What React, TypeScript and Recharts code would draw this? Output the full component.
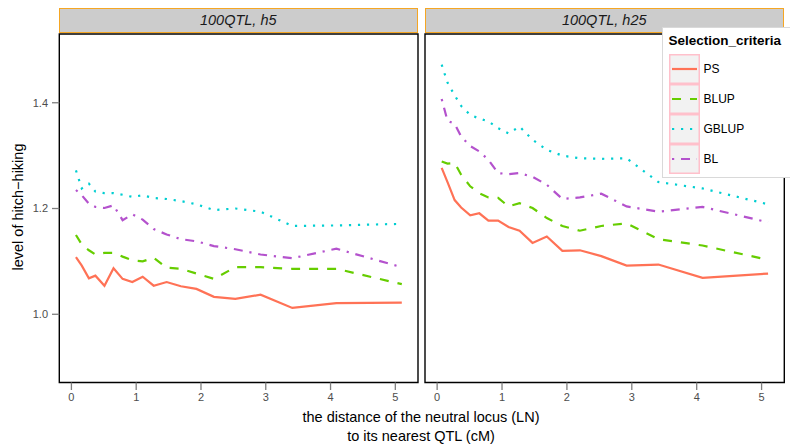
import React from "react"
import { LineChart, Line, XAxis, YAxis, ReferenceArea } from "recharts"

// distance of the neutral locus to its nearest QTL (cM), bin midpoints
const distance = [0.07, 0.16, 0.27, 0.37, 0.51, 0.65, 0.79, 0.94, 1.1, 1.27, 1.47, 1.69, 1.93, 2.2, 2.53, 2.92, 3.41, 4.09, 5.1]

// panel "100QTL, h5"
const h5PS = [1.108, 1.092, 1.068, 1.073, 1.054, 1.087, 1.067, 1.061, 1.071, 1.054, 1.061, 1.053, 1.048, 1.033, 1.029, 1.037, 1.012, 1.021, 1.022]
const h5BLUP = [1.15, 1.132, 1.121, 1.113, 1.116, 1.116, 1.109, 1.102, 1.1, 1.107, 1.088, 1.086, 1.077, 1.067, 1.089, 1.089, 1.086, 1.086, 1.057]
const h5GBLUP = [1.272, 1.238, 1.247, 1.232, 1.229, 1.229, 1.226, 1.222, 1.225, 1.22, 1.218, 1.214, 1.208, 1.197, 1.2, 1.194, 1.167, 1.168, 1.171]
const h5BL = [1.235, 1.225, 1.209, 1.203, 1.201, 1.206, 1.178, 1.189, 1.179, 1.161, 1.151, 1.142, 1.138, 1.129, 1.123, 1.113, 1.106, 1.124, 1.089]

// panel "100QTL, h25"
const h25PS = [1.277, 1.25, 1.216, 1.202, 1.187, 1.191, 1.177, 1.177, 1.165, 1.158, 1.135, 1.147, 1.12, 1.121, 1.11, 1.092, 1.094, 1.069, 1.077]
const h25BLUP = [1.289, 1.285, 1.286, 1.264, 1.242, 1.229, 1.221, 1.22, 1.204, 1.21, 1.201, 1.182, 1.167, 1.158, 1.167, 1.172, 1.142, 1.13, 1.103]
const h25GBLUP = [1.472, 1.438, 1.414, 1.394, 1.377, 1.37, 1.365, 1.352, 1.342, 1.355, 1.33, 1.311, 1.3, 1.295, 1.294, 1.295, 1.25, 1.238, 1.208]
const h25BL = [1.407, 1.366, 1.36, 1.336, 1.318, 1.308, 1.292, 1.267, 1.265, 1.267, 1.26, 1.245, 1.218, 1.221, 1.228, 1.204, 1.194, 1.203, 1.174]

const panelTitles = ["100QTL, h5", "100QTL, h25"]
const criteria = ["PS", "BLUP", "GBLUP", "BL"]
const xTicks = [0, 1, 2, 3, 4, 5]
const yTicks = [1.0, 1.2, 1.4]
const xDomain: [number, number] = [-0.187, 5.35]
const yDomain: [number, number] = [0.871, 1.53]

const colors: Record<string, string> = {
  PS: "#FF7256",
  BLUP: "#66CD00",
  GBLUP: "#00CED1",
  BL: "#B452CD",
}
const dashes: Record<string, string | undefined> = {
  PS: undefined,
  BLUP: "9 9",
  GBLUP: "2.2 6.8",
  BL: "2.2 6.8 9 6.8",
}

function buildRows(ps: number[], blup: number[], gblup: number[], bl: number[]) {
  return distance.map((d, i) => ({ d, PS: ps[i], BLUP: blup[i], GBLUP: gblup[i], BL: bl[i] }))
}

const panels = [
  buildRows(h5PS, h5BLUP, h5GBLUP, h5BL),
  buildRows(h25PS, h25BLUP, h25GBLUP, h25BL),
]

const font = '"Liberation Sans", Arial, Helvetica, sans-serif'
const tickStyle = { fill: "#4D4D4D", fontSize: 11 }
const H = 447

function Panel({ rows, left, width, showY }: { rows: any[]; left: number; width: number; showY: boolean }) {
  return (
    <div style={{ position: "absolute", left: 0, top: 0 }}>
      <LineChart
        width={790}
        height={H}
        data={rows}
        margin={{ top: 34, right: 790 - left - width, bottom: 44.5, left: showY ? left - 59.3 : left }}
      >
        <XAxis
          dataKey="d"
          type="number"
          domain={xDomain}
          allowDataOverflow
          ticks={xTicks}
          height={20}
          axisLine={false}
          tickLine={{ stroke: "#7F7F7F", strokeWidth: 1.3 }}
          tickSize={7.5}
          tickMargin={3}
          tick={tickStyle}
        />
        <YAxis
          type="number"
          domain={yDomain}
          allowDataOverflow
          ticks={yTicks}
          hide={!showY}
          width={59.3}
          axisLine={false}
          tickLine={{ stroke: "#7F7F7F", strokeWidth: 1.3 }}
          tickSize={7.3}
          tickMargin={4}
          tick={tickStyle}
          tickFormatter={(v: number) => v.toFixed(1)}
        />
        {criteria.map((c) => (
          <Line
            key={c}
            dataKey={c}
            type="linear"
            stroke={colors[c]}
            strokeWidth={2.2}
            strokeDasharray={dashes[c]}
            strokeLinecap="butt"
            dot={false}
            activeDot={false}
            isAnimationActive={false}
          />
        ))}
        <ReferenceArea
          x1={xDomain[0]}
          x2={xDomain[1]}
          y1={yDomain[0]}
          y2={yDomain[1]}
          fill="none"
          stroke="#000"
          strokeWidth={1.4}
          ifOverflow="visible"
        />
      </LineChart>
    </div>
  )
}

function Strip({ title, left, width }: { title: string; left: number; width: number }) {
  return (
    <div
      style={{
        position: "absolute",
        left,
        top: 7.5,
        width: width - 3,
        height: 23,
        background: "#CCCCCC",
        border: "1.5px solid #F5A623",
        color: "#1A1A1A",
        fontStyle: "italic",
        fontSize: 14.5,
        lineHeight: "23px",
        textAlign: "center",
      }}
    >
      {title}
    </div>
  )
}

function LegendKey({ c }: { c: string }) {
  return (
    <div style={{ display: "flex", alignItems: "center", height: 30 }}>
      <svg width={31} height={30} style={{ display: "block" }}>
        <rect x={0.75} y={0.75} width={29.5} height={28.5} fill="#F2F2F2" stroke="#FFC0CB" strokeWidth={1.5} />
        <line
          x1={3}
          x2={28}
          y1={15}
          y2={15}
          stroke={colors[c]}
          strokeWidth={2.2}
          strokeDasharray={dashes[c]}
        />
      </svg>
      <span style={{ marginLeft: 4, fontSize: 12, color: "#000" }}>{c}</span>
    </div>
  )
}

export default function App() {
  return (
    <div
      style={{
        position: "absolute",
        left: 0,
        top: 0,
        width: 790,
        height: H,
        overflow: "hidden",
        background: "#fff",
        fontFamily: font,
      }}
    >
      <Strip title={panelTitles[0]} left={59} width={359.5} />
      <Strip title={panelTitles[1]} left={425} width={359.5} />
      <Panel rows={panels[0]} left={59.3} width={358.7} showY />
      <Panel rows={panels[1]} left={425} width={359.3} showY={false} />

      <div
        style={{
          position: "absolute",
          left: 18 - 100,
          top: 207 - 10,
          width: 200,
          height: 20,
          lineHeight: "20px",
          textAlign: "center",
          fontSize: 14.5,
          transform: "rotate(-90deg)",
          color: "#000",
        }}
      >
        level of hitch−hiking
      </div>

      <div
        style={{
          position: "absolute",
          left: 221,
          top: 408,
          width: 400,
          textAlign: "center",
          fontSize: 14.5,
          lineHeight: "19px",
          color: "#000",
        }}
      >
        the distance of the neutral locus (LN)
        <br />
        to its nearest QTL (cM)
      </div>

      <div
        style={{
          position: "absolute",
          left: 661.5,
          top: 27,
          width: 140,
          height: 151,
          background: "#fff",
          border: "1px solid #D9D9D9",
          boxSizing: "border-box",
          paddingLeft: 6,
        }}
      >
        <div style={{ fontWeight: "bold", fontSize: 13.5, height: 26, lineHeight: "26px", color: "#000" }}>
          Selection_criteria
        </div>
        {criteria.map((c) => (
          <LegendKey key={c} c={c} />
        ))}
      </div>
    </div>
  )
}
